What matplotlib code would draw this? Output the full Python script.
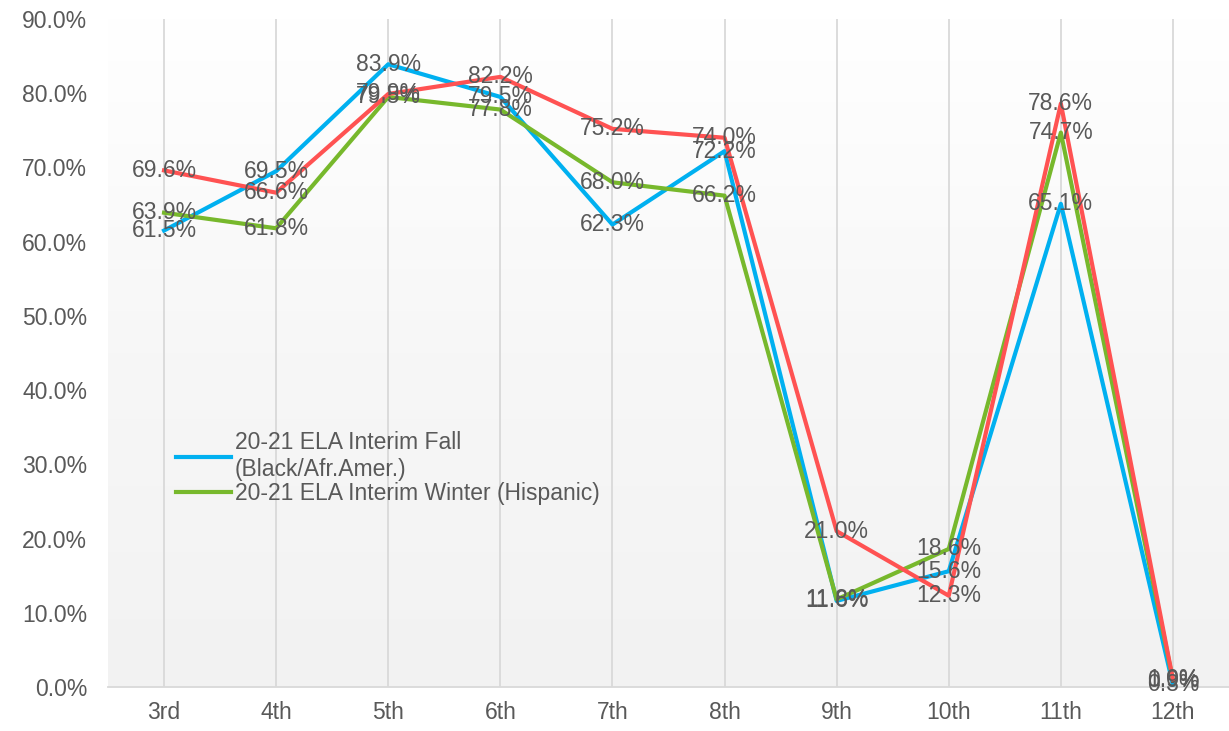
import numpy as np
import matplotlib
matplotlib.use("Agg")
import matplotlib.pyplot as plt
from matplotlib.colors import LinearSegmentedColormap

# data (percent)
grades = ["3rd", "4th", "5th", "6th", "7th", "8th", "9th", "10th", "11th", "12th"]
fall_black = [61.5, 69.5, 83.9, 79.5, 62.3, 72.2, 11.6, 15.6, 65.1, 0.3]
winter_hisp = [63.9, 61.8, 79.5, 77.8, 68.0, 66.2, 11.8, 18.6, 74.7, 0.9]
third_series = [69.6, 66.6, 79.9, 82.2, 75.2, 74.0, 21.0, 12.3, 78.6, 1.0]

series = [
    ("20-21 ELA Interim Fall\n(Black/Afr.Amer.)", fall_black, "#00b0f0"),
    ("20-21 ELA Interim Winter (Hispanic)", winter_hisp, "#77b82c"),
    ("_nolegend_", third_series, "#ff5252"),
]

plt.rcParams["font.family"] = ["Liberation Sans", "DejaVu Sans"]
txt = "#595959"
fs = 16.5

fig = plt.figure(figsize=(12.29, 7.31), dpi=100)
ax = fig.add_axes([108 / 1229, 44 / 731, 1 - 108 / 1229, 668 / 731])

x = np.arange(len(grades))
ax.set_xlim(-0.5, len(grades) - 0.5)
ax.set_ylim(0, 90)

# soft vertical gradient behind the plot (white at top, light grey at bottom)
cmap = LinearSegmentedColormap.from_list("bg", ["#f2f2f2", "#f7f7f7", "#ffffff"])
grad = np.linspace(0, 1, 256).reshape(-1, 1)
ax.imshow(grad, extent=(-0.5, len(grades) - 0.5, 0, 90), aspect="auto",
          cmap=cmap, zorder=0, origin="lower")

for xi in x:
    ax.axvline(xi, color="#d9d9d9", lw=1.3, zorder=1)

for name, vals, col in series:
    ax.plot(x, vals, color=col, lw=3, label=name, zorder=3)

for name, vals, col in series:
    for xi, v in zip(x, vals):
        ax.text(xi, v, f"{v:.1f}%", ha="center", va="center", fontsize=fs,
                color=txt, zorder=5)

ax.set_xticks(x)
ax.set_xticklabels(grades)
ax.set_yticks(np.arange(0, 91, 10))
ax.set_yticklabels([f"{v:.1f}%" for v in np.arange(0, 91, 10)])
ax.tick_params(axis="both", length=0, labelsize=fs, labelcolor=txt)
ax.tick_params(axis="x", pad=10)
ax.tick_params(axis="y", pad=15)

for s in ["top", "right", "left"]:
    ax.spines[s].set_visible(False)
ax.spines["bottom"].set_color("#d9d9d9")
ax.spines["bottom"].set_linewidth(1.3)
ax.spines["bottom"].set_zorder(2)

leg = ax.legend(loc="upper left", bbox_to_anchor=(167 / 1229, 1 - 422 / 731),
                bbox_transform=fig.transFigure, frameon=False, fontsize=fs,
                handlelength=2.4, handletextpad=0.15, labelspacing=0.05,
                borderaxespad=0)
for t in leg.get_texts():
    t.set_color(txt)

fig.savefig("out.png", dpi=100)
